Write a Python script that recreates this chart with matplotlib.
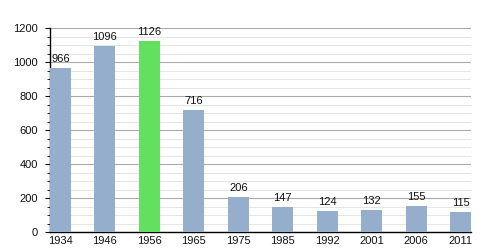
import matplotlib
matplotlib.use("Agg")
import matplotlib.pyplot as plt
from matplotlib.ticker import MultipleLocator

years = ["1934", "1946", "1956", "1965", "1975", "1985", "1992", "2001", "2006", "2011"]
population = [966, 1096, 1126, 716, 206, 147, 124, 132, 155, 115]
highlight = "1956"

plt.rcParams["font.family"] = ["Liberation Sans", "DejaVu Sans"]

fig = plt.figure(figsize=(5, 2.5), dpi=100)
ax = fig.add_axes([0.1, 0.072, 0.842, 0.816])

w = 0.473
x = list(range(len(years)))
colors = ["#62e060" if y == highlight else "#94aecb" for y in years]
ax.bar(x, population, width=w, color=colors, zorder=3)
for xi, v in zip(x, population):
    ax.annotate(str(v), (xi, v), xytext=(0, 4.3), textcoords="offset points",
                ha="center", va="baseline", fontsize=8, color="#111111", zorder=4)

ax.set_xlim(-w / 2, len(years) - 1 + w / 2)
ax.set_ylim(0, 1200)
ax.set_xticks(x)
ax.set_xticklabels(years, fontsize=8)
ax.yaxis.set_major_locator(MultipleLocator(200))
ax.yaxis.set_minor_locator(MultipleLocator(50))
ax.tick_params(axis="y", labelsize=8, length=3.6, width=0.8, direction="out", pad=5, colors="#111111")
ax.tick_params(axis="y", which="minor", length=2.2, width=0.6)
ax.tick_params(axis="x", length=0, pad=3, colors="#111111")
ax.grid(axis="y", which="major", color="#aaaaaa", linewidth=0.8, zorder=0)
ax.grid(axis="y", which="minor", color="#e0e0e0", linewidth=0.6, zorder=0)
for s in ["top", "right"]:
    ax.spines[s].set_visible(False)
ax.spines["left"].set_linewidth(1)
ax.spines["bottom"].set_linewidth(1)

fig.savefig("out.png", dpi=100)
